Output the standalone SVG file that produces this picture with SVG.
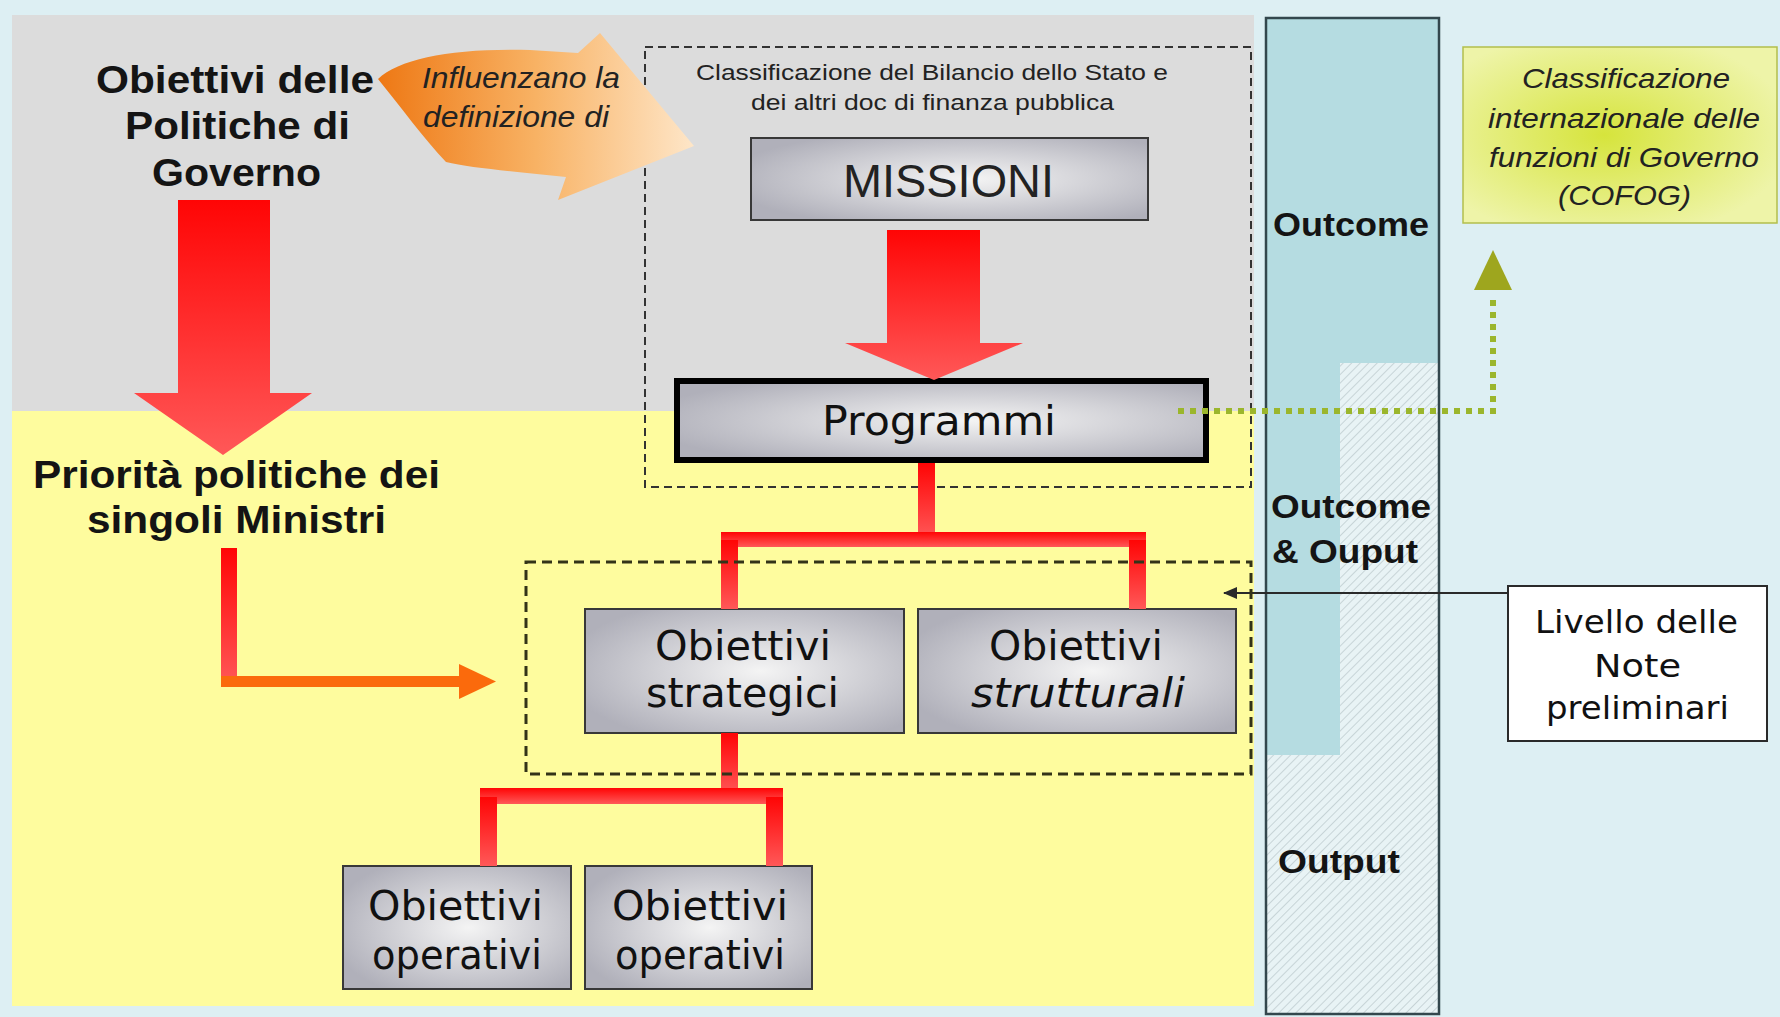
<svg xmlns="http://www.w3.org/2000/svg" width="1780" height="1017" viewBox="0 0 1780 1017">
<defs>
  <linearGradient id="redV" x1="0" y1="0" x2="0" y2="1">
    <stop offset="0" stop-color="#ff0505"/><stop offset="1" stop-color="#ff5858"/>
  </linearGradient>
  <linearGradient id="orangeH" x1="0" y1="0" x2="1" y2="0">
    <stop offset="0" stop-color="#ee7814"/><stop offset="0.5" stop-color="#f8b264"/><stop offset="1" stop-color="#fee6c8"/>
  </linearGradient>
  <radialGradient id="silver" cx="0.55" cy="0.5" r="0.62">
    <stop offset="0" stop-color="#f4f4f4"/><stop offset="1" stop-color="#b0b0ba"/>
  </radialGradient>
  <radialGradient id="cofog" cx="0.45" cy="0.5" r="0.6">
    <stop offset="0" stop-color="#d6e43c"/><stop offset="1" stop-color="#eef4a8"/>
  </radialGradient>
  <pattern id="hatch" width="6" height="6" patternUnits="userSpaceOnUse" patternTransform="rotate(45)">
    <rect width="6" height="6" fill="#e8f3f5"/>
    <line x1="0" y1="0" x2="0" y2="6" stroke="#b5c3c7" stroke-width="1.3"/>
  </pattern>
  <marker id="blackHead" markerWidth="14" markerHeight="12" refX="13" refY="6" orient="auto" markerUnits="userSpaceOnUse">
    <path d="M0,0 L14,6 L0,12 Z" fill="#2a2a2a"/>
  </marker>
  <style>
    .bold{font-family:"Liberation Sans",Arimo,Arial,sans-serif;font-weight:bold;fill:#141414}
    .ital{font-family:"Liberation Sans",Arimo,Arial,sans-serif;font-style:italic;fill:#222}
    .reg{font-family:"Liberation Sans",Arimo,Arial,sans-serif;fill:#222}
    .comic{font-family:"DejaVu Sans",sans-serif;fill:#111}
    .box{fill:url(#silver);stroke:#383838;stroke-width:2}
    .red{fill:url(#redV)}
    .dash1{fill:none;stroke:#333;stroke-width:2;stroke-dasharray:8 5}
    .dash2{fill:none;stroke:#333318;stroke-width:3;stroke-dasharray:10 6}
  </style>
</defs>

<!-- backgrounds -->
<rect x="0" y="0" width="1780" height="1017" fill="#ddeff3"/>
<rect x="12" y="15" width="1242" height="396" fill="#dcdcdc"/>
<rect x="12" y="411" width="1242" height="595" fill="#fefc9e"/>

<!-- outcome column -->
<g id="column">
  <rect x="1266" y="18" width="173" height="996" fill="url(#hatch)"/>
  <rect x="1266" y="18" width="173" height="345" fill="#b5dce1"/>
  <rect x="1266" y="363" width="74" height="392" fill="#b5dce1"/>
  <rect x="1266" y="18" width="173" height="996" fill="none" stroke="#33474d" stroke-width="2.5"/>
  <text class="bold" x="1273" y="236" font-size="33" textLength="156" lengthAdjust="spacingAndGlyphs">Outcome</text>
  <text class="bold" x="1271" y="518" font-size="33" textLength="160" lengthAdjust="spacingAndGlyphs">Outcome</text>
  <text class="bold" x="1272" y="563" font-size="33" textLength="146" lengthAdjust="spacingAndGlyphs">&amp; Ouput</text>
  <text class="bold" x="1278" y="873" font-size="33" textLength="122" lengthAdjust="spacingAndGlyphs">Output</text>
</g>

<!-- headings -->
<g id="obiettivi-politiche">
  <text class="bold" x="96" y="93" font-size="39" textLength="278" lengthAdjust="spacingAndGlyphs">Obiettivi delle</text>
  <text class="bold" x="125" y="139" font-size="39" textLength="225" lengthAdjust="spacingAndGlyphs">Politiche di</text>
  <text class="bold" x="152" y="186" font-size="39" textLength="169" lengthAdjust="spacingAndGlyphs">Governo</text>
</g>
<g id="priorita">
  <text class="bold" x="33" y="488" font-size="38" textLength="407" lengthAdjust="spacingAndGlyphs">Priorità politiche dei</text>
  <text class="bold" x="87" y="533" font-size="38" textLength="299" lengthAdjust="spacingAndGlyphs">singoli Ministri</text>
</g>

<!-- upper dashed group -->
<g id="classificazione-bilancio">
  <rect class="dash1" x="645" y="47" width="606" height="440"/>
  <text class="reg" x="696" y="80" font-size="22" textLength="472" lengthAdjust="spacingAndGlyphs">Classificazione del Bilancio dello Stato e</text>
  <text class="reg" x="751" y="110" font-size="22" textLength="363" lengthAdjust="spacingAndGlyphs">dei altri doc di finanza pubblica</text>
</g>

<g id="missioni">
  <rect class="box" x="751" y="138" width="397" height="82"/>
  <text class="reg" x="843" y="197" font-size="46" fill="#111" textLength="211" lengthAdjust="spacingAndGlyphs">MISSIONI</text>
</g>

<g id="programmi">
  <rect x="677" y="381" width="529" height="79" fill="url(#silver)" stroke="#000" stroke-width="6"/>
  <text class="comic" x="822" y="435" font-size="40" textLength="234" lengthAdjust="spacingAndGlyphs">Programmi</text>
</g>

<g id="obiettivi-strategici">
  <rect class="box" x="585" y="609" width="319" height="124"/>
  <text class="comic" x="655" y="660" font-size="40" textLength="176" lengthAdjust="spacingAndGlyphs">Obiettivi</text>
  <text class="comic" x="646" y="707" font-size="40" textLength="193" lengthAdjust="spacingAndGlyphs">strategici</text>
</g>

<g id="obiettivi-strutturali">
  <rect class="box" x="918" y="609" width="318" height="124"/>
  <text class="comic" x="989" y="660" font-size="40" textLength="174" lengthAdjust="spacingAndGlyphs">Obiettivi</text>
  <text class="comic" x="971" y="707" font-size="40" font-style="italic" textLength="214" lengthAdjust="spacingAndGlyphs">strutturali</text>
</g>

<g id="obiettivi-operativi-1">
  <rect class="box" x="343" y="866" width="228" height="123"/>
  <text class="comic" x="368" y="920" font-size="40" textLength="175" lengthAdjust="spacingAndGlyphs">Obiettivi</text>
  <text class="comic" x="372" y="969" font-size="40" textLength="170" lengthAdjust="spacingAndGlyphs">operativi</text>
</g>

<g id="obiettivi-operativi-2">
  <rect class="box" x="585" y="866" width="227" height="123"/>
  <text class="comic" x="612" y="920" font-size="40" textLength="176" lengthAdjust="spacingAndGlyphs">Obiettivi</text>
  <text class="comic" x="615" y="969" font-size="40" textLength="170" lengthAdjust="spacingAndGlyphs">operativi</text>
</g>

<g id="cofog">
  <rect x="1463" y="47" width="314" height="176" fill="url(#cofog)" stroke="#b2bf4c" stroke-width="1.5"/>
  <text class="ital" x="1522" y="88" font-size="28" textLength="208" lengthAdjust="spacingAndGlyphs">Classificazione</text>
  <text class="ital" x="1488" y="128" font-size="28" textLength="272" lengthAdjust="spacingAndGlyphs">internazionale delle</text>
  <text class="ital" x="1489" y="167" font-size="28" textLength="270" lengthAdjust="spacingAndGlyphs">funzioni di Governo</text>
  <text class="ital" x="1558" y="205" font-size="28" textLength="133" lengthAdjust="spacingAndGlyphs">(COFOG)</text>
</g>

<g id="livello-note">
  <rect x="1508" y="586" width="259" height="155" fill="#ffffff" stroke="#2a2a2a" stroke-width="2"/>
  <text class="comic" x="1535" y="633" font-size="32" textLength="203" lengthAdjust="spacingAndGlyphs">Livello delle</text>
  <text class="comic" x="1594" y="677" font-size="32" textLength="87" lengthAdjust="spacingAndGlyphs">Note</text>
  <text class="comic" x="1546" y="719" font-size="32" textLength="183" lengthAdjust="spacingAndGlyphs">preliminari</text>
</g>

<!-- connectors -->
<g id="connectors">
  <!-- curved orange arrow -->
  <path d="M378,79 C400,58 455,48 530,50 L578,53 L600,33 L694,146 L558,200 L566,177 C520,172 470,168 446,162 C425,140 400,106 378,79 Z" fill="url(#orangeH)"/>
  <!-- big red arrows -->
  <polygon class="red" points="178,200 270,200 270,393 312,393 223,455 134,393 178,393"/>
  <polygon class="red" points="887,230 980,230 980,343 1023,343 934,380 845,343 887,343"/>
  <!-- tree from Programmi -->
  <rect class="red" x="918" y="463" width="17" height="76"/>
  <rect class="red" x="721" y="532" width="425" height="15"/>
  <rect class="red" x="721" y="540" width="17" height="69"/>
  <rect class="red" x="1129" y="540" width="17" height="69"/>
  <!-- tree from strategici -->
  <rect class="red" x="721" y="733" width="17" height="62"/>
  <rect class="red" x="480" y="788" width="303" height="16"/>
  <rect class="red" x="480" y="797" width="17" height="69"/>
  <rect class="red" x="766" y="797" width="17" height="69"/>
  <!-- L arrow from Priorita -->
  <rect class="red" x="221" y="548" width="16" height="139"/>
  <rect x="221" y="676" width="241" height="11" fill="#fb6a0c"/>
  <polygon points="459,664 496,681.5 459,699" fill="#fb6a0c"/>
  <!-- green dotted arrow to COFOG -->
  <path d="M1178,411 H1493 V296" fill="none" stroke="#9bb62c" stroke-width="6" stroke-dasharray="6 6"/>
  <polygon points="1493,250 1474,290 1512,290" fill="#9ea61e"/>
  <!-- black arrow from Livello -->
  <line x1="1508" y1="593" x2="1224" y2="593" stroke="#2a2a2a" stroke-width="2" marker-end="url(#blackHead)"/>
</g>

<g id="influenzano">
  <text class="ital" x="422" y="88" font-size="30" textLength="198" lengthAdjust="spacingAndGlyphs">Influenzano la</text>
  <text class="ital" x="423" y="127" font-size="30" textLength="186" lengthAdjust="spacingAndGlyphs">definizione di</text>
</g>

<!-- lower dashed group -->
<g id="note-preliminari-area">
  <rect class="dash2" x="526" y="562" width="725" height="212"/>
</g>
</svg>
